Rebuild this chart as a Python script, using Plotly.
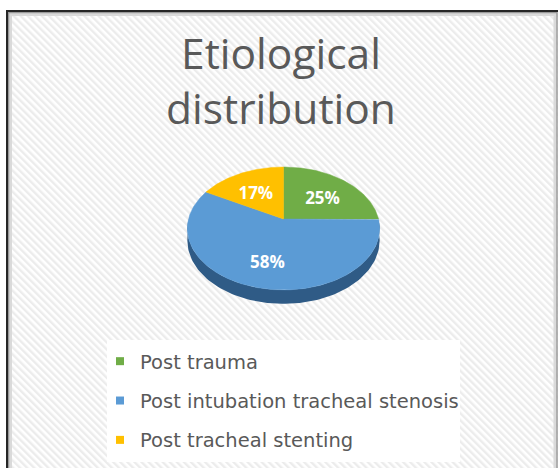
import base64
import numpy as np
import plotly.graph_objects as go

# ---- data ----
categories = ["Post trauma", "Post intubation tracheal stenosis", "Post tracheal stenting"]
values = [25, 58, 17]
colors = ["#70ad47", "#5b9bd5", "#ffc000"]
title_text = "Etiological<br>distribution"

# ---- geometry of the perspective (3D-looking) pie, in pixel-like axis units ----
W, H = 558, 468
CX, CY = 283.5, 219.0      # apex of the top face
W0, S0 = 95.0, 60.0        # horizontal / vertical semi-axes at the centre line
K = 0.154                  # perspective strength
DEPTH = 11.8               # thickness of the pie
SIDE_COLOR = "#2f5b86"


def proj(theta_deg, rho=1.0, drop=0.0):
    t = np.radians(theta_deg)
    f = 1.0 + K * rho * np.cos(t)
    x = CX + W0 * rho * np.sin(t) / f
    y = CY - S0 * rho * np.cos(t) / f + drop / f
    return x, y


total = float(sum(values))
fracs = [v / total for v in values]
bounds = np.concatenate([[0.0], np.cumsum(fracs) * 360.0])

fig = go.Figure()

# side (thickness) of the pie, front half
tb = np.linspace(90, 270, 120)
bx, by = proj(tb, 1.0, DEPTH)
tx, ty = proj(tb[::-1], 1.0, 0.0)
fig.add_trace(go.Scatter(
    x=np.concatenate([bx, tx]), y=np.concatenate([by, ty]),
    fill="toself", fillcolor=SIDE_COLOR, line=dict(width=0, color=SIDE_COLOR),
    mode="lines", hoverinfo="skip", showlegend=False))

# top face slices
for i, (cat, col) in enumerate(zip(categories, colors)):
    a0, a1 = bounds[i], bounds[i + 1]
    th = np.linspace(a0, a1, max(8, int((a1 - a0) * 1.5)))
    ax_, ay_ = proj(th)
    xs = np.concatenate([[CX], ax_, [CX]])
    ys = np.concatenate([[CY], ay_, [CY]])
    fig.add_trace(go.Scatter(
        x=xs, y=ys, fill="toself", fillcolor=col,
        line=dict(width=0.5, color=col), mode="lines",
        hoverinfo="skip", showlegend=False))

# percentage labels
lx, ly, lt = [], [], []
for i, v in enumerate(values):
    mid = (bounds[i] + bounds[i + 1]) / 2.0
    x, y = proj(mid, 0.62)
    lx.append(x)
    ly.append(y + 5)
    lt.append(f"{round(fracs[i] * 100)}%")
fig.add_trace(go.Scatter(
    x=lx, y=ly, text=lt, mode="text", textposition="middle center",
    textfont=dict(family="Open Sans", size=17, color="white", weight="bold"),
    hoverinfo="skip", showlegend=False))

# legend entries
for cat, col in zip(categories, colors):
    fig.add_trace(go.Scatter(
        x=[None], y=[None], mode="markers", name=cat, legendgroup=cat,
        marker=dict(symbol="square", size=8, color=col)))

# hatched background image
svg = (
    f"<svg xmlns='http://www.w3.org/2000/svg' width='551' height='457'>"
    "<defs><pattern id='p' width='5' height='5' patternUnits='userSpaceOnUse' "
    "patternTransform='rotate(-45)'>"
    "<rect width='5' height='5' fill='#ffffff'/>"
    "<rect width='2.4' height='5' fill='#ececec'/></pattern></defs>"
    "<rect width='100%' height='100%' fill='url(#p)'/></svg>"
)
src = "data:image/svg+xml;base64," + base64.b64encode(svg.encode()).decode()

fig.update_layout(
    width=W, height=H,
    margin=dict(l=0, r=0, t=0, b=0),
    paper_bgcolor="white", plot_bgcolor="rgba(0,0,0,0)",
    xaxis=dict(range=[0, W], visible=False, fixedrange=True),
    yaxis=dict(range=[H, 0], visible=False, fixedrange=True),
    title=dict(text=title_text, x=281 / W, xanchor="center",
               yref="container", y=1 - 69 / H, yanchor="top",
               font=dict(family="Open Sans", size=42.5, color="#595959")),
    showlegend=True,
    legend=dict(x=100 / W, y=1 - 342 / H, xanchor="left", yanchor="top",
                bgcolor="rgba(0,0,0,0)", traceorder="grouped",
                tracegroupgap=11,
                font=dict(family="DejaVu Sans", size=19.5, color="#595959")),
    images=[dict(source=src, xref="paper", yref="paper", x=7 / W, y=1 - 11 / H,
                 sizex=551 / W, sizey=457 / H, xanchor="left", yanchor="top",
                 sizing="stretch", layer="below")],
    shapes=[
        dict(type="rect", xref="x", yref="y", x0=107, x1=460, y0=340, y1=462,
             fillcolor="white", line=dict(width=0), layer="below"),
        dict(type="rect", xref="x", yref="y", x0=10.5, x1=555, y0=14.5, y1=472,
             fillcolor="rgba(0,0,0,0)", line=dict(width=3, color="#dadada"), layer="above"),
        dict(type="rect", xref="x", yref="y", x0=8.5, x1=557, y0=12.5, y1=472,
             fillcolor="rgba(0,0,0,0)", line=dict(width=1.5, color="#9a9a9a"), layer="above"),
        dict(type="rect", xref="x", yref="y", x0=7, x1=560, y0=11, y1=472,
             fillcolor="rgba(0,0,0,0)", line=dict(width=2, color="#262626"), layer="above"),
    ],
    hovermode=False,
)

fig.write_html("out.html", config={"displayModeBar": False},
               post_script="document.body.style.margin='0';")
